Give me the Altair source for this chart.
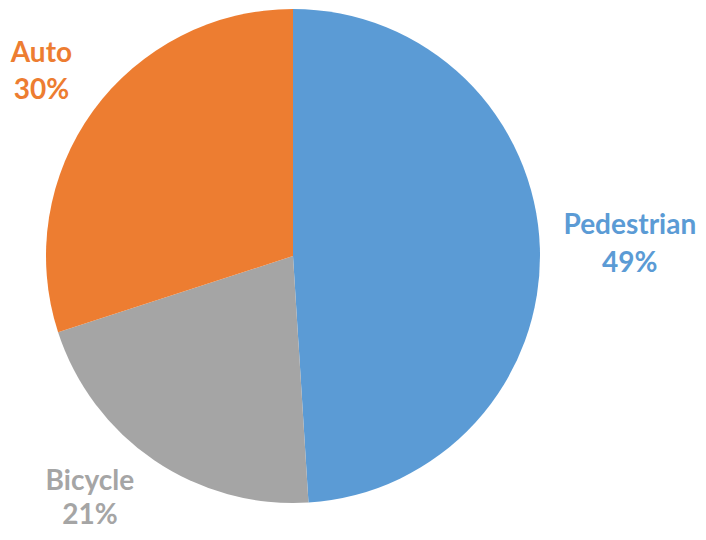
import altair as alt
import pandas as pd

categories = ["Pedestrian", "Bicycle", "Auto"]
shares = [49, 21, 30]
colors = ["#5B9BD5", "#A5A5A5", "#ED7D31"]

df = pd.DataFrame({
    "mode": categories,
    "share": shares,
    "order": list(range(len(categories))),
})
df["label"] = df["mode"] + "\n" + df["share"].astype(str) + "%"

color = alt.Color("mode:N", scale=alt.Scale(domain=categories, range=colors), legend=None)

base = alt.Chart(df).encode(
    theta=alt.Theta("share:Q", stack=True),
    order=alt.Order("order:Q"),
    color=color,
)

pie = base.mark_arc(radius=247)

# label placement style (radius from centre and small nudges) per category
label_style = {
    "Pedestrian": dict(radius=337, dx=0, dy=-19, lh=38),
    "Auto": dict(radius=311, dx=0, dy=-19, lh=37),
    "Bicycle": dict(radius=324, dx=-21, dy=-42, lh=34),
}

label_layers = []
for cat in categories:
    st = label_style[cat]
    label_layers.append(
        base.mark_text(
            font="Lato", fontWeight="bold", fontSize=28,
            lineBreak="\n", lineHeight=st["lh"], baseline="middle", align="center",
            radius=st["radius"], dx=st["dx"], dy=st["dy"],
        ).encode(
            text="label:N",
            opacity=alt.condition(alt.datum.mode == cat, alt.value(1), alt.value(0)),
        )
    )

chart = alt.layer(pie, *label_layers).properties(
    width=570, height=496,
    autosize=alt.AutoSizeParams(type="none"),
    padding={"left": 0, "top": 0, "right": 120, "bottom": 28},
).configure_view(stroke=None)

chart.save("out.html", embed_options={"renderer": "svg", "actions": False})
